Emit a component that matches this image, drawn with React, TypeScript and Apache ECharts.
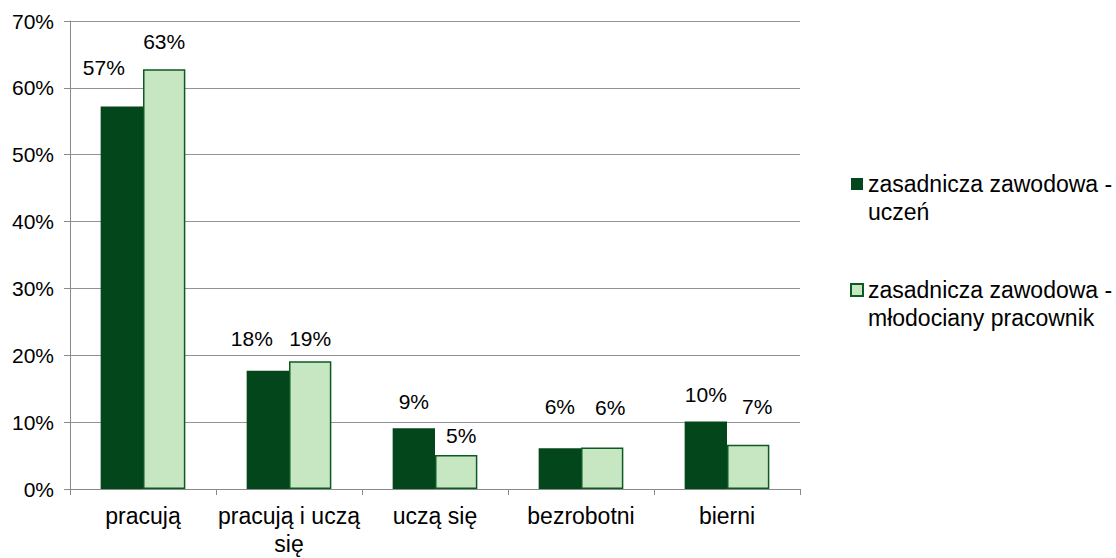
import React, { useEffect, useRef } from "react";
import * as echarts from "echarts";

const categories = ["pracują", "pracują i uczą się", "uczą się", "bezrobotni", "bierni"];
const seriesNames = [
  "zasadnicza zawodowa - uczeń",
  "zasadnicza zawodowa - młodociany pracownik",
];
const uczen = [57.2, 17.7, 9.1, 6.1, 10.1];
const mlodociany = [62.8, 19.1, 5.1, 6.2, 6.6];

// label placement tweaks (styling only)
const uczenLabelOffsets = [[-18, -29], [-16, -22], [0, -16], [0, -31], [0, -16]];
const mlodocianyLabelOffsets = [[0, -17], [0, -12], [5, -9], [8, -30], [9, -28]];

const FONT = "'Liberation Sans', Arial, sans-serif";
const AXIS_COLOR = "#8a8a8a";

export default function App() {
  const ref = useRef<HTMLDivElement>(null);

  useEffect(() => {
    if (!ref.current) return;
    const chart = echarts.init(ref.current, undefined, { renderer: "svg" });

    const mkData = (vals: number[], offs: number[][]) =>
      vals.map((v, i) => ({ value: v, label: { offset: offs[i] } }));

    const labelCommon = {
      show: true,
      position: "top" as const,
      distance: 0,
      fontSize: 21,
      fontFamily: FONT,
      color: "#000",
      formatter: (p: any) => Math.round(p.value) + "%",
    };

    chart.setOption({
      animation: false,
      textStyle: { fontFamily: FONT },
      grid: { left: 70, right: 316, top: 21, bottom: 67, containLabel: false },
      legend: {
        orient: "vertical",
        left: 850,
        top: 142,
        padding: 0,
        itemWidth: 12,
        itemHeight: 12,
        itemGap: 22,
        icon: "rect",
        // leading blank line puts the icon level with the first text line
        formatter: (name: string) => "\n" + name.replace(" - ", " -\n"),
        textStyle: {
          fontSize: 23,
          lineHeight: 28,
          fontFamily: FONT,
          color: "#000",
        },
        data: seriesNames,
      },
      xAxis: {
        type: "category",
        data: categories,
        axisLine: { show: true, lineStyle: { color: AXIS_COLOR, width: 1 } },
        axisTick: { show: true, length: 6, lineStyle: { color: AXIS_COLOR } },
        axisLabel: {
          fontSize: 23,
          lineHeight: 28,
          color: "#000",
          fontFamily: FONT,
          margin: 13,
          interval: 0,
          formatter: (v: string) => (v.length > 14 ? v.replace(/ (\S+)$/, "\n$1") : v),
        },
      },
      yAxis: {
        type: "value",
        min: 0,
        max: 70,
        interval: 10,
        axisLine: { show: true, lineStyle: { color: AXIS_COLOR, width: 1 } },
        axisTick: { show: true, length: 6, lineStyle: { color: AXIS_COLOR } },
        axisLabel: {
          formatter: "{value}%",
          fontSize: 21,
          color: "#000",
          fontFamily: FONT,
          margin: 16,
        },
        splitLine: { show: true, lineStyle: { color: "#929292", width: 1 } },
      },
      series: [
        {
          name: seriesNames[0],
          type: "bar",
          data: mkData(uczen, uczenLabelOffsets),
          barGap: "0%",
          barCategoryGap: "42%",
          itemStyle: { color: "#03461c" },
          label: labelCommon,
        },
        {
          name: seriesNames[1],
          type: "bar",
          data: mkData(mlodociany, mlodocianyLabelOffsets),
          barGap: "0%",
          barCategoryGap: "42%",
          itemStyle: { color: "#c7e7c3", borderColor: "#0d5a23", borderWidth: 1.5 },
          label: labelCommon,
        },
      ],
    });

    return () => chart.dispose();
  }, []);

  return (
    <div
      ref={ref}
      style={{ position: "fixed", left: 0, top: 0, width: 1116, height: 558, background: "#fff" }}
    />
  );
}
